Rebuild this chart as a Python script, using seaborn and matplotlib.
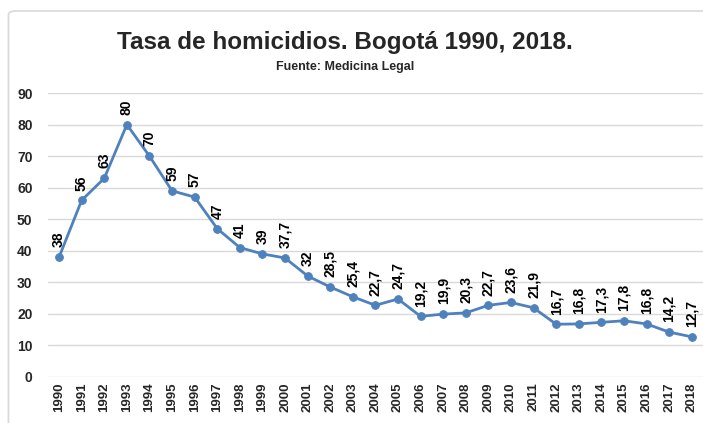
import matplotlib
matplotlib.use("Agg")
import matplotlib.pyplot as plt
from matplotlib.patches import FancyBboxPatch
import seaborn as sns
import pandas as pd

years = list(range(1990, 2019))
rates = [38, 56, 63, 80, 70, 59, 57, 47, 41, 39, 37.7, 32, 28.5, 25.4, 22.7, 24.7,
         19.2, 19.9, 20.3, 22.7, 23.6, 21.9, 16.7, 16.8, 17.3, 17.8, 16.8, 14.2, 12.7]
labels = ["38", "56", "63", "80", "70", "59", "57", "47", "41", "39", "37,7", "32",
          "28,5", "25,4", "22,7", "24,7", "19,2", "19,9", "20,3", "22,7", "23,6", "21,9",
          "16,7", "16,8", "17,3", "17,8", "16,8", "14,2", "12,7"]

df = pd.DataFrame({"year": years, "rate": rates})

sns.set_style("white")
plt.rcParams['font.family'] = ['Liberation Sans', 'DejaVu Sans']

fig = plt.figure(figsize=(7.03, 4.23), dpi=100)
ax = fig.add_axes([0.068, 0.109, 0.932, 0.671])

# outer chart border
border = FancyBboxPatch((0.012, -0.05), 1.05, 1.024, boxstyle="round,pad=0,rounding_size=0.01",
                        transform=fig.transFigure, facecolor='none', edgecolor='#d9d9d9',
                        linewidth=1.2, zorder=0)
fig.patches.append(border)

line_color = '#4F81BD'
sns.lineplot(data=df, x="year", y="rate", ax=ax, color=line_color, linewidth=2,
             marker='o', markersize=5.5, markeredgecolor=line_color)

for x, y, lab in zip(years, rates, labels):
    ax.annotate(lab, (x, y), xytext=(0, 7), textcoords='offset points',
                rotation=90, ha='center', va='bottom', fontsize=10, fontweight='bold',
                color='black')

ax.set_xlim(1989.5, 2018.5)
ax.set_ylim(0, 90)
ax.set_yticks(range(0, 91, 10))
ax.set_xticks(years)
ax.set_xticklabels([str(y) for y in years], rotation=90, fontsize=9.5, fontweight='bold')
ax.tick_params(axis='y', labelsize=10, length=0, pad=11)
ax.tick_params(axis='x', length=0, pad=4)
for lab in ax.get_yticklabels():
    lab.set_fontweight('bold')
ax.yaxis.grid(True, color='#d9d9d9', linewidth=1)
ax.xaxis.grid(False)
for s in ax.spines.values():
    s.set_visible(False)
ax.set_xlabel("")
ax.set_ylabel("")

fig.text(0.491, 0.9, "Tasa de homicidios. Bogotá 1990, 2018.", ha='center', va='center',
         fontsize=17.5, fontweight='bold')
fig.text(0.491, 0.842, "Fuente: Medicina Legal", ha='center', va='center',
         fontsize=9, fontweight='bold')

fig.savefig("out.png", dpi=100)
